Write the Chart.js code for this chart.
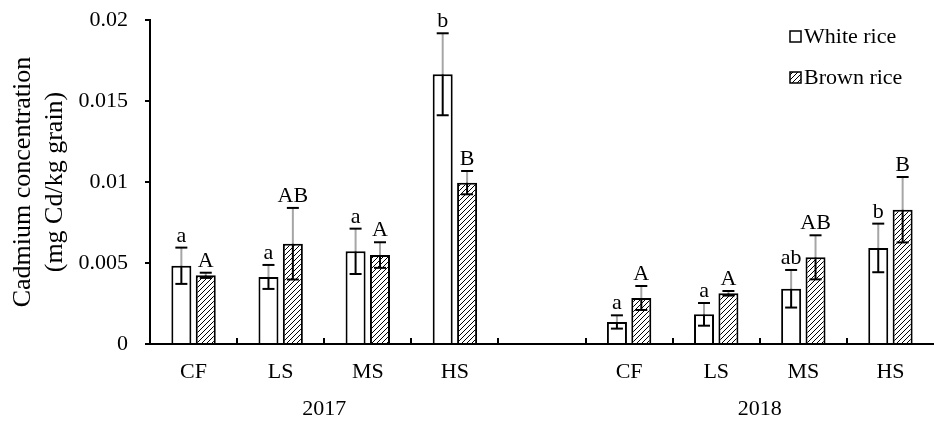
<!DOCTYPE html>
<html>
<head>
<meta charset="utf-8">
<script src="https://cdn.jsdelivr.net/npm/chart.js@4.4.1/dist/chart.umd.min.js"></script>
<style>
  html, body { margin: 0; padding: 0; background: #fff; }
  canvas { display: block; }
</style>
</head>
<body>
<canvas id="cdChart" width="934" height="421"></canvas>
<script>
// treatments (empty slot separates the two years)
const treatments = ["CF", "LS", "MS", "HS", "", "CF", "LS", "MS", "HS"];
const years = ["2017", "2018"];

// mean Cd concentration (mg Cd/kg grain)
const whiteRice = [0.00483, 0.00414, 0.00572, 0.01665, null, 0.00136, 0.00183, 0.00341, 0.00593];
const brownRice = [0.00424, 0.00619, 0.00549, 0.00996, null, 0.00284, 0.00313, 0.00535, 0.00829];

// error bars
const whiteErr = [0.00112, 0.00074, 0.00140, 0.00253, null, 0.00041, 0.00070, 0.00116, 0.00150];
const brownErr = [0.00016, 0.00221, 0.00079, 0.00072, null, 0.00074, 0.00014, 0.00136, 0.00202];

// significance letters
const whiteLetters = ["a", "a", "a", "b", "", "a", "a", "ab", "b"];
const brownLetters = ["A", "AB", "A", "B", "", "A", "A", "AB", "B"];

const yTicks = [0, 0.005, 0.01, 0.015, 0.02];

const FONT = "'Liberation Serif', 'Times New Roman', serif";

// --------------------
// hatch fill for brown rice
// --------------------
function makeHatch() {
    const c = document.createElement("canvas");
    c.width = 5; c.height = 5;
    const g = c.getContext("2d");
    g.fillStyle = "#fff";
    g.fillRect(0, 0, 5, 5);
    g.strokeStyle = "#000";
    g.lineWidth = 1;
    g.beginPath();
    g.moveTo(-1, 6);
    g.lineTo(6, -1);
    g.stroke();
    return g.createPattern(c, "repeat");
}
const hatch = makeHatch();

function line(ctx, x1, y1, x2, y2) {
    ctx.beginPath();
    ctx.moveTo(x1, y1);
    ctx.lineTo(x2, y2);
    ctx.stroke();
}

// error bars, letters, x tick marks, year labels, legend
const extras = {
    id: "extras",
    afterDatasetsDraw(chart) {
        const ctx = chart.ctx;
        const xs = chart.scales.x, ys = chart.scales.y, area = chart.chartArea;
        const vals = [whiteRice, brownRice];
        const errs = [whiteErr, brownErr];
        const letters = [whiteLetters, brownLetters];
        ctx.save();
        ctx.lineWidth = 2;
        ctx.font = "22px " + FONT;
        ctx.textAlign = "center";
        ctx.fillStyle = "#000";
        [0, 1].forEach(d => {
            chart.getDatasetMeta(d).data.forEach((bar, i) => {
                const v = vals[d][i];
                if (v == null) return;
                const top = ys.getPixelForValue(v + errs[d][i]);
                const bot = ys.getPixelForValue(v - errs[d][i]);
                const bx = bar.x;
                ctx.strokeStyle = "#a6a6a6";
                line(ctx, bx, top, bx, bar.y);
                ctx.strokeStyle = "#000";
                line(ctx, bx, bar.y, bx, bot);
                line(ctx, bx - 6, top, bx + 6, top);
                line(ctx, bx - 6, bot, bx + 6, bot);
                ctx.textBaseline = "alphabetic";
                ctx.fillText(letters[d][i], bx, top - 6);
            });
        });

        // inward tick marks between categories
        ctx.strokeStyle = "#000";
        for (let i = 1; i < treatments.length; i++) {
            const tx = Math.round((xs.getPixelForValue(i - 1) + xs.getPixelForValue(i)) / 2);
            line(ctx, tx, area.bottom, tx, area.bottom - 6);
        }

        // year labels
        ctx.textBaseline = "middle";
        ctx.fillText(years[0], (xs.getPixelForValue(1) + xs.getPixelForValue(2)) / 2, 409);
        ctx.fillText(years[1], (xs.getPixelForValue(6) + xs.getPixelForValue(7)) / 2, 409);

        // legend
        ctx.textAlign = "left";
        ctx.lineWidth = 1.5;
        ctx.fillStyle = "#fff";
        ctx.fillRect(790, 31, 11, 11);
        ctx.strokeRect(790, 31, 11, 11);
        ctx.fillStyle = hatch;
        ctx.fillRect(790, 72, 11, 11);
        ctx.strokeRect(790, 72, 11, 11);
        ctx.fillStyle = "#000";
        ctx.fillText("White rice", 804, 37);
        ctx.fillText("Brown rice", 804, 78);
        ctx.restore();
    }
};

new Chart(document.getElementById("cdChart"), {
    type: "bar",
    data: {
        labels: treatments,
        datasets: [
            {
                label: "White rice",
                data: whiteRice,
                backgroundColor: "#ffffff",
                borderColor: "#000000",
                borderWidth: 2,
                categoryPercentage: 0.56,
                barPercentage: 0.82
            },
            {
                label: "Brown rice",
                data: brownRice,
                backgroundColor: hatch,
                borderColor: "#000000",
                borderWidth: 2,
                categoryPercentage: 0.56,
                barPercentage: 0.82
            }
        ]
    },
    options: {
        responsive: false,
        animation: false,
        layout: { padding: { top: 20, right: 0, left: 0, bottom: 0 } },
        plugins: {
            legend: { display: false },
            tooltip: { enabled: false }
        },
        scales: {
            x: {
                grid: { display: false, drawTicks: false },
                border: { display: true, color: "#000", width: 2 },
                ticks: {
                    color: "#000",
                    padding: 15,
                    maxRotation: 0,
                    autoSkip: false,
                    font: { family: FONT, size: 22 }
                },
                afterFit: s => { s.height = 77; s.paddingLeft = 0; s.paddingRight = 0; }
            },
            y: {
                min: 0,
                max: 0.02,
                afterBuildTicks: s => { s.ticks = yTicks.map(v => ({ value: v })); },
                grid: { drawOnChartArea: false, color: "#000", tickLength: 5, lineWidth: 2 },
                border: { display: true, color: "#000", width: 2 },
                ticks: {
                    color: "#000",
                    padding: 17,
                    font: { family: FONT, size: 22 },
                    callback: v => String(+v.toFixed(3))
                },
                title: {
                    display: true,
                    text: ["Cadmium concentration", "(mg Cd/kg grain)"],
                    color: "#000",
                    font: { family: FONT, size: 26, lineHeight: 1.23 },
                    padding: { top: 7, bottom: 0 }
                },
                afterFit: s => { s.width = 150; s.paddingTop = 0; s.paddingBottom = 0; }
            }
        }
    },
    plugins: [extras]
});
</script>
</body>
</html>
